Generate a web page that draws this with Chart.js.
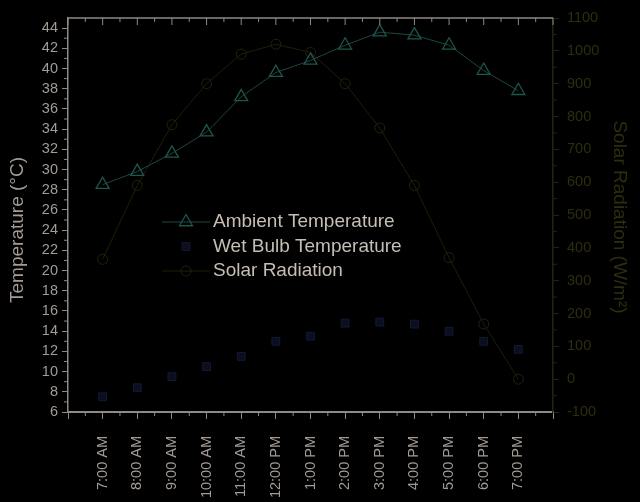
<!DOCTYPE html>
<html>
<head>
<meta charset="utf-8">
<script src="https://cdn.jsdelivr.net/npm/chart.js@4/dist/chart.umd.min.js"></script>
<style>
  html, body { margin: 0; padding: 0; background: #000; }
  #wrap { width: 640px; height: 502px; position: relative; }
</style>
</head>
<body>
<div id="wrap"><canvas id="myChart"></canvas></div>
<script>
// values
const categories = ['7:00 AM', '8:00 AM', '9:00 AM', '10:00 AM', '11:00 AM', '12:00 PM',
                    '1:00 PM', '2:00 PM', '3:00 PM', '4:00 PM', '5:00 PM', '6:00 PM', '7:00 PM'];
const ambientTemp = [28.5, 29.8, 31.6, 33.7, 37.2, 39.6, 40.8, 42.3, 43.6, 43.3, 42.3, 39.8, 37.8];
const wetBulbTemp = [7.5, 8.4, 9.5, 10.5, 11.5, 13.0, 13.5, 14.8, 14.9, 14.7, 14.0, 13.0, 12.2];
const solarRad = [365, 590, 775, 900, 990, 1020, 995, 900, 765, 590, 370, 168, 0];
const tempTicks = { min: 6, max: 45, step: 2 };
const radTicks = { min: -100, max: 1100, step: 100 };

const fontFamily = '"Liberation Sans", Arial, sans-serif';
const grey = '#a39b94';
const greyLine = '#8f8883';
const olive = '#2e2d0d';
const oliveLine = '#25240c';
const teal = '#1a4841';
const navy = '#0e1328';
const solarColor = '#1e1e09';

function toPoints(arr) {
  return arr.map((v, i) => ({ x: i, y: v }));
}

const frame = {
  id: 'frame',
  afterDraw(chart) {
    const { ctx, chartArea: a, scales } = chart;
    const x = scales.x, y = scales.y, y1 = scales.y1;
    const seg = (x0, y0, x2, y2) => { ctx.beginPath(); ctx.moveTo(x0, y0); ctx.lineTo(x2, y2); ctx.stroke(); };
    ctx.save();

    // top frame line with inward ticks, minor ticks at the bottom
    ctx.strokeStyle = greyLine;
    ctx.lineWidth = 1.5;
    seg(a.left, a.top, a.right, a.top);
    ctx.lineWidth = 1;
    for (let v = x.min; v <= x.max; v += 0.5) {
      const px = x.getPixelForValue(v);
      const major = Number.isInteger(v);
      seg(px, a.top, px, a.top + (major ? 7 : 4));
      if (!major) seg(px, a.bottom, px, a.bottom + 4);
    }
    // left minor ticks
    for (let v = tempTicks.min + 1; v < tempTicks.max; v += tempTicks.step) {
      const py = y.getPixelForValue(v);
      seg(a.left - 4, py, a.left, py);
    }
    // right minor ticks
    ctx.strokeStyle = oliveLine;
    for (let v = radTicks.min + 50; v < radTicks.max; v += radTicks.step) {
      const py = y1.getPixelForValue(v);
      seg(a.right, py, a.right + 4, py);
    }

    // axis titles
    ctx.font = '19px ' + fontFamily;
    ctx.textAlign = 'center';
    ctx.textBaseline = 'middle';
    ctx.fillStyle = grey;
    ctx.save();
    ctx.translate(18, 230);
    ctx.rotate(-Math.PI / 2);
    ctx.fillText('Temperature (°C)', 0, 0);
    ctx.restore();
    ctx.fillStyle = olive;
    ctx.save();
    ctx.translate(619, 217);
    ctx.rotate(Math.PI / 2);
    ctx.fillText('Solar Radiation (W/m²)', 0, 0);
    ctx.restore();

    // legend
    const lx = 186, ly = 222, gap = 24.5;
    chart.data.datasets.forEach((ds, i) => {
      const cy = ly + i * gap;
      if (ds.showLine !== false) {
        ctx.strokeStyle = ds.borderColor;
        ctx.lineWidth = ds.borderWidth;
        seg(lx - 24, cy, lx + 24, cy);
      }
      ctx.strokeStyle = ds.pointBorderColor;
      ctx.fillStyle = ds.pointBackgroundColor;
      ctx.lineWidth = ds.pointBorderWidth;
      Chart.helpers.drawPoint(ctx, { pointStyle: ds.pointStyle, radius: ds.pointRadius, rotation: 0, borderWidth: ds.pointBorderWidth }, lx, cy);
      ctx.fillStyle = '#c6beb5';
      ctx.textAlign = 'left';
      ctx.font = '19px ' + fontFamily;
      ctx.fillText(ds.label, 213, cy);
    });
    ctx.restore();
  }
};

let chart = new Chart(document.getElementById('myChart').getContext('2d'), {
  type: 'line',
  data: {
    datasets: [{
      label: 'Ambient Temperature',
      data: toPoints(ambientTemp),
      yAxisID: 'y',
      borderColor: teal,
      borderWidth: 1,
      pointStyle: 'triangle',
      pointRadius: 7.5,
      pointBorderWidth: 1.3,
      pointBorderColor: '#1e554c',
      pointBackgroundColor: 'rgba(0,0,0,0)',
      tension: 0,
      order: 1
    }, {
      label: 'Wet Bulb Temperature',
      data: toPoints(wetBulbTemp),
      yAxisID: 'y',
      showLine: false,
      borderColor: navy,
      borderWidth: 1,
      pointStyle: 'rect',
      pointRadius: 5.5,
      pointBorderWidth: 1,
      pointBorderColor: '#131a36',
      pointBackgroundColor: '#0a0e1e',
      order: 2
    }, {
      label: 'Solar Radiation',
      data: toPoints(solarRad),
      yAxisID: 'y1',
      borderColor: solarColor,
      borderWidth: 1,
      pointStyle: 'circle',
      pointRadius: 5,
      pointBorderWidth: 1,
      pointBorderColor: '#22220b',
      pointBackgroundColor: 'rgba(0,0,0,0)',
      tension: 0,
      order: 3
    }]
  },
  options: {
    responsive: true,
    maintainAspectRatio: false,
    animation: false,
    layout: { padding: { top: 18, left: 0, right: 0, bottom: 0 } },
    plugins: { legend: { display: false }, tooltip: { enabled: false } },
    scales: {
      x: {
        type: 'linear',
        min: -1,
        max: categories.length,
        afterFit: (s) => { s.height = 90; },
        grid: { drawOnChartArea: false, tickLength: 7, tickColor: greyLine, tickWidth: 1 },
        border: { color: greyLine, width: 2 },
        ticks: {
          stepSize: 1,
          autoSkip: false,
          minRotation: 90,
          maxRotation: 90,
          padding: 17,
          color: grey,
          font: { family: fontFamily, size: 14.5 },
          callback: (v) => categories[v] || ''
        }
      },
      y: {
        position: 'left',
        min: tempTicks.min,
        max: tempTicks.max,
        afterFit: (s) => { s.width = 68; },
        grid: { drawOnChartArea: false, tickLength: 6, tickColor: greyLine },
        border: { color: greyLine, width: 1.5 },
        ticks: {
          stepSize: tempTicks.step,
          includeBounds: false,
          padding: 4,
          color: grey,
          font: { family: fontFamily, size: 14.5 },
          callback: (v) => String(v)
        }
      },
      y1: {
        position: 'right',
        min: radTicks.min,
        max: radTicks.max,
        afterFit: (s) => { s.width = 87; },
        grid: { drawOnChartArea: false, tickLength: 6, tickColor: oliveLine },
        border: { color: oliveLine, width: 1.5 },
        ticks: {
          stepSize: radTicks.step,
          padding: 8,
          color: olive,
          font: { family: fontFamily, size: 14.5 },
          callback: (v) => String(v)
        }
      }
    }
  },
  plugins: [frame]
});
</script>
</body>
</html>
